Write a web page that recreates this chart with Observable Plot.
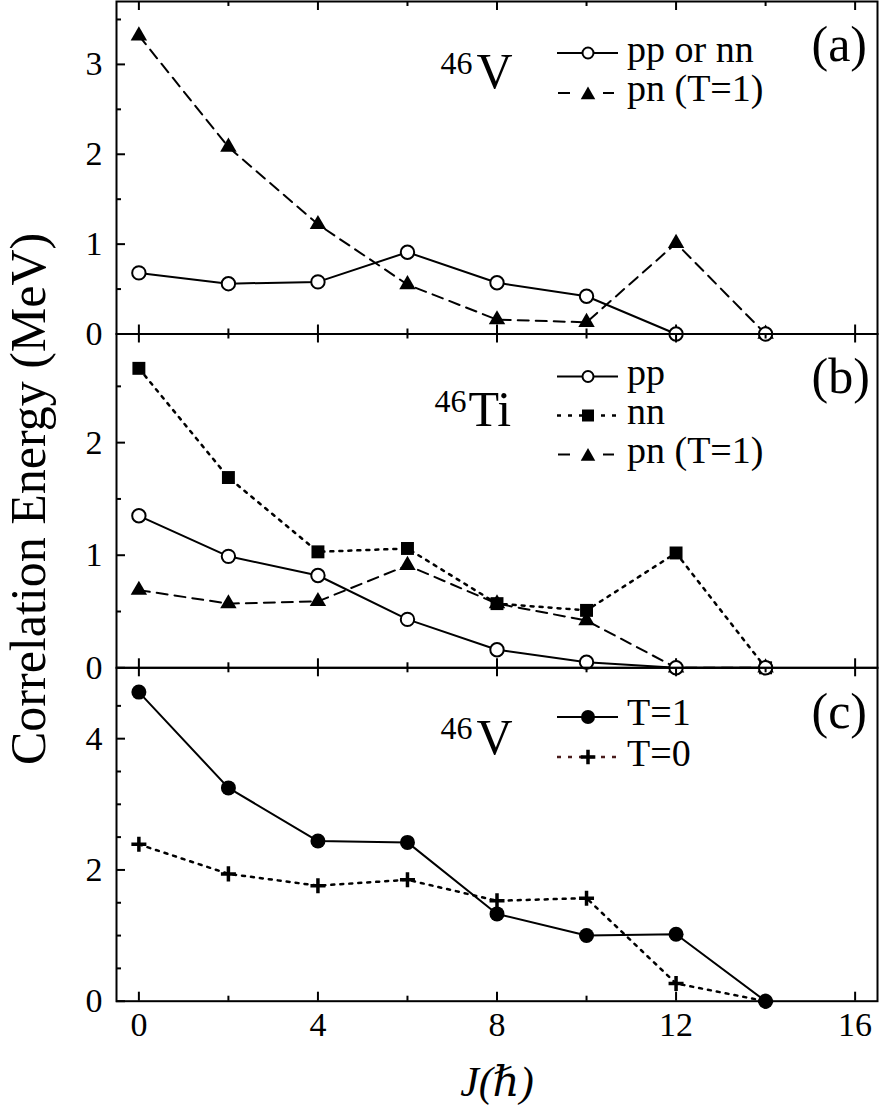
<!DOCTYPE html>
<html><head><meta charset="utf-8">
<script src="https://cdn.jsdelivr.net/npm/d3@7"></script>
<script src="https://cdn.jsdelivr.net/npm/@observablehq/plot@0.6"></script>
<style>
body{margin:0;background:#fff;}
#wrap{position:relative;width:879px;height:1109px;background:#fff;overflow:hidden;font-family:'Liberation Serif','DejaVu Serif',serif;}
#wrap svg{position:absolute;left:0;}
</style></head><body><div id="wrap"></div>
<script>
// ---------- data ----------
const J = [0, 2, 4, 6, 8, 10, 12, 14];
// panel (a) 46V
const aPPorNN = [0.68, 0.56, 0.58, 0.91, 0.57, 0.42, 0, 0];
const aPN     = [3.32, 2.08, 1.22, 0.55, 0.16, 0.13, 1.01, 0];
// panel (b) 46Ti
const bPP = [1.35, 0.99, 0.82, 0.43, 0.16, 0.05, 0, 0];
const bNN = [2.66, 1.69, 1.03, 1.06, 0.57, 0.51, 1.02, 0];
const bPN = [0.69, 0.57, 0.59, 0.91, 0.57, 0.42, 0, 0];
// panel (c) 46V
const cT1 = [4.71, 3.25, 2.44, 2.42, 1.33, 1.00, 1.02, 0];
const cT0 = [2.39, 1.94, 1.76, 1.85, 1.53, 1.57, 0.27, 0];

const xMajor = [0, 4, 8, 12, 16];
const xMinor = [2, 6, 10, 14];
const aYMajor = [0, 1, 2, 3], aYMinor = [0.5, 1.5, 2.5, 3.5];
const bYMajor = [0, 1, 2],    bYMinor = [0.5, 1.5, 2.5];
const cYMajor = [0, 2, 4],    cYMinor = [0.5, 1, 1.5, 2.5, 3, 3.5, 4.5];

const FONT = "Liberation Serif, DejaVu Serif, Noto Serif, serif";
const W = 879, ML = 116, MR = 2;
const fmt = d => String(d);

const rows = vals => J.map((j, i) => ({J: j, v: vals[i]}));

function annot(str, absX, absBase, frameTop, size, extra = {}) {
  return Plot.text([str], {text: d => d, frameAnchor: "top-left", dx: absX - ML, dy: absBase - frameTop,
    textAnchor: "start", lineAnchor: "bottom", fontSize: size, fontFamily: FONT, fill: "black", ...extra});
}

function panel({svgTop, height, mt, mb, domain, yMajor, yMinor, marks, xLabels}) {
  const H = height - mt - mb, PW = W - ML - MR;
  const all = [
    Plot.tickX(xMajor, {x: d => d, insetTop: H - 9, strokeWidth: 2}),
    Plot.tickX(xMinor, {x: d => d, insetTop: H - 5, strokeWidth: 2}),
    Plot.tickX(xMajor, {x: d => d, insetBottom: H - 9, strokeWidth: 2}),
    Plot.tickX(xMinor, {x: d => d, insetBottom: H - 5, strokeWidth: 2}),
    Plot.tickY(yMajor, {y: d => d, insetRight: PW - 9, strokeWidth: 2}),
    Plot.tickY(yMinor, {y: d => d, insetRight: PW - 5, strokeWidth: 2}),
    Plot.axisY({ticks: yMajor, tickFormat: fmt, tickSize: 0, tickPadding: 14, fontSize: 34, fontFamily: FONT, fontVariant: "normal", label: null, fill: "black"}),
    ...marks,
    Plot.frame({strokeWidth: 2, stroke: "black"})
  ];
  if (xLabels) all.push(Plot.axisX({ticks: xMajor, tickFormat: fmt, tickSize: 0, tickPadding: 11, fontSize: 34, fontFamily: FONT, fontVariant: "normal", label: null, fill: "black"}));
  const svg = Plot.plot({
    width: W, height, marginLeft: ML, marginRight: MR, marginTop: mt, marginBottom: mb,
    x: {domain: [-0.5, 16.5], axis: xLabels ? undefined : null, label: null},
    y: {domain, label: null},
    style: {background: "transparent", overflow: "visible", fontFamily: FONT, color: "black"},
    marks: all
  });
  svg.setAttribute("font-family", FONT);
  svg.style.top = svgTop + "px";
  document.getElementById("wrap").appendChild(svg);
  return svg;
}

function series(vals, {dash = null, lw = 2, symbol, r, fill = "black", stroke = "none", sw = 2}) {
  return {
    line: Plot.line(rows(vals), {x: "J", y: "v", stroke: "black", strokeWidth: lw, strokeDasharray: dash}),
    dot: Plot.dot(rows(vals), {x: "J", y: "v", symbol, r, fill, stroke, strokeWidth: sw})
  };
}

const DASH = "11,7", DOT = "3,6";
const sOpen = (v) => series(v, {symbol: "circle", r: 6.7, fill: "white", stroke: "black", sw: 2});
const sTri = (v) => series(v, {dash: DASH, symbol: "triangle", r: 6.1});
const sSq = (v) => series(v, {dash: DOT, lw: 2.5, symbol: "square", r: 7.3});
const sFill = (v) => series(v, {symbol: "circle", r: 7.5});
const sPlus = (v) => series(v, {dash: DOT, lw: 2.5, symbol: "plus", r: 4.9, fill: "none", stroke: "black", sw: 3.5});

// ---------- legends (drawn with d3 into each svg) ----------
function legend(svg, svgTop, items) {
  const g = d3.select(svg).append("g").attr("text-anchor", "start");
  for (const it of items) {
    const y = it.y - svgTop;
    for (const s of it.segs) {
      g.append("line").attr("x1", s[0]).attr("x2", s[1]).attr("y1", y).attr("y2", y)
        .attr("stroke", it.color || "black").attr("stroke-width", it.lw || 2)
        .attr("stroke-dasharray", s[2] || null);
    }
    const m = g.append("path").attr("transform", `translate(588,${y + (it.dy || 0)})`)
      .attr("d", d3.symbol(it.sym, it.size)());
    if (it.open) m.attr("fill", "white").attr("stroke", "black").attr("stroke-width", 2);
    else if (it.stroke) m.attr("fill", "none").attr("stroke", "black").attr("stroke-width", 3.5);
    else m.attr("fill", "black");
    g.append("text").attr("x", 627).attr("y", it.base - svgTop).text(it.label)
      .attr("text-anchor", "start").attr("font-size", 38).attr("font-family", FONT).attr("fill", "black");
  }
}
const SOLID = [[557, 618]], DASHED = [[558, 570], [603, 614]], DOTTED = [[557, 618, "4,7"]];
const areaR = r => Math.PI * r * r;

// ---------- panel (a) ----------
{
  const pp = sOpen(aPPorNN), pn = sTri(aPN);
  const svg = panel({svgTop: 0, height: 334.5, mt: 1, mb: 1, domain: [0, 3.7], yMajor: aYMajor, yMinor: aYMinor,
    marks: [pn.line, pp.line, pn.dot, pp.dot,
      annot("46", 440, 73, 1, 32), annot("V", 476, 87, 1, 50), annot("(a)", 811, 60, 1, 50)]});
  legend(svg, 0, [
    {y: 53, base: 62, segs: SOLID, sym: d3.symbolCircle, size: areaR(5.5), open: true, label: "pp or nn"},
    {y: 93, base: 101, segs: DASHED, sym: d3.symbolTriangle, size: areaR(5.4), dy: 2, label: "pn (T=1)"}
  ]);
}
// ---------- panel (b) ----------
{
  const pp = sOpen(bPP), nn = sSq(bNN), pn = sTri(bPN);
  const svg = panel({svgTop: 330, height: 340, mt: 3.5, mb: 2.7, domain: [0, 2.965], yMajor: bYMajor, yMinor: bYMinor,
    marks: [pn.line, nn.line, pp.line, pn.dot, nn.dot, pp.dot,
      annot("46", 434, 411, 333.5, 32), annot("Ti", 468, 425, 333.5, 50), annot("(b)", 811, 392, 333.5, 50),
      Plot.text(["Correlation Energy (MeV)"], {text: d => d, frameAnchor: "left", dx: -88, dy: -2, rotate: -90,
        textAnchor: "middle", lineAnchor: "middle", fontSize: 50, fontFamily: FONT, fill: "black"})]});
  legend(svg, 330, [
    {y: 376.5, base: 385, segs: SOLID, sym: d3.symbolCircle, size: areaR(5.5), open: true, label: "pp"},
    {y: 415.5, base: 424, segs: DOTTED, lw: 2.5, sym: d3.symbolSquare, size: 144, label: "nn"},
    {y: 454.5, base: 463, segs: DASHED, sym: d3.symbolTriangle, size: areaR(5.4), dy: 2, label: "pn (T=1)"}
  ]);
}
// ---------- panel (c) ----------
{
  const t1 = sFill(cT1), t0 = sPlus(cT0);
  const svg = panel({svgTop: 664, height: 445, mt: 3.3, mb: 108.3, domain: [0, 5.08], yMajor: cYMajor, yMinor: cYMinor, xLabels: true,
    marks: [t0.line, t1.line, t0.dot, t1.dot,
      annot("46", 440, 738, 667.3, 32), annot("V", 476, 753, 667.3, 50), annot("(c)", 811, 727, 667.3, 50),
      Plot.text(["J(ℏ)"], {text: d => d, frameAnchor: "bottom", dy: 95, textAnchor: "middle", lineAnchor: "bottom",
        fontSize: 42, fontStyle: "italic", fontFamily: FONT, fill: "black"})]});
  legend(svg, 664, [
    {y: 717, base: 725, segs: SOLID, sym: d3.symbolCircle, size: areaR(7), label: "T=1"},
    {y: 757, base: 766, segs: DOTTED, lw: 2.5, color: "#4a1c1c", sym: d3.symbolPlus, size: 72, stroke: true, label: "T=0"}
  ]);
}
</script></body></html>
